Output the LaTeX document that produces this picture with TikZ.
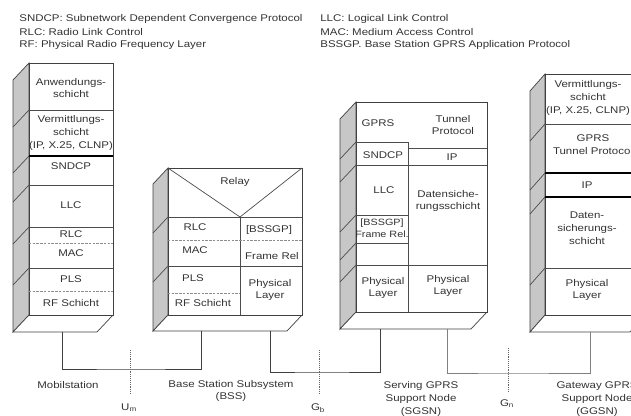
\documentclass[tikz,border=0pt]{standalone}
\usepackage{fontspec}
\setmainfont{Liberation Sans}[FakeStretch=1.18]
\usetikzlibrary{calc}

\begin{document}
\begin{tikzpicture}[x=0.03cm, y=-0.03cm, line width=0.6pt,
    txt/.style={inner sep=0pt, align=center, text=black!80, font=\fontsize{8.3}{11}\selectfont},
    hdr/.style={txt, anchor=west},
    frontface/.style={draw=black!75, fill=white},
    sideface/.style={draw=black!75, fill=black!22},
    layerline/.style={draw=black!70},
    boldline/.style={draw=black, line width=1.1pt},
    subline/.style={draw=black!45, dash pattern=on 2pt off 1.2pt},
    link/.style={draw=black!75},
    iface/.style={draw=black!60, densely dotted}]

  \useasboundingbox (0,0) rectangle (631,416);
  \clip (0,0) rectangle (631,416);

  % Abbreviations
  \node[hdr] (hdr-sndcp) at (19,19) {SNDCP: Subnetwork Dependent Convergence Protocol};
  \node[hdr] (hdr-rlc) at (19,32) {RLC: Radio Link Control};
  \node[hdr] (hdr-rf) at (19,45) {RF: Physical Radio Frequency Layer};
  \node[hdr] (hdr-llc) at (320,19) {LLC: Logical Link Control};
  \node[hdr] (hdr-mac) at (320,32) {MAC: Medium Access Control};
  \node[hdr] (hdr-bssgp) at (320,45) {BSSGP. Base Station GPRS Application Protocol};

  % Mobilstation
  \path[sideface] (29,63) -- (13,80) -- (13,332) -- (29,315) -- cycle;
  \path[frontface] (29,315) -- (113,315) -- (97,332) -- (13,332) -- cycle;
  \path[frontface] (29,63) rectangle (113,315);
  \foreach \y in {110,156,185,227,268}
    \draw[layerline] (29,\y) -- (13,{\y+17});
  \draw[layerline] (29,110) -- (113,110);
  \draw[boldline] (29,156) -- (113,156);
  \draw[layerline] (29,185) -- (113,185);
  \draw[layerline] (29,227) -- (113,227);
  \draw[subline] (29,243) -- (113,243);
  \draw[layerline] (29,268) -- (113,268);
  \draw[subline] (29,291) -- (113,291);
  \node[txt] (ms-app) at (71,88) {Anwendungs-\\schicht};
  \node[txt] (ms-net) at (71,133) {Vermittlungs-\\schicht\\(IP, X.25, CLNP)};
  \node[txt] (ms-sndcp) at (71,166) {SNDCP};
  \node[txt] (ms-llc) at (71,205) {LLC};
  \node[txt] (ms-rlc) at (71,234) {RLC};
  \node[txt] (ms-mac) at (71,253) {MAC};
  \node[txt] (ms-pls) at (71,279) {PLS};
  \node[txt] (ms-rf) at (71,303) {RF Schicht};

  % Base Station Subsystem
  \path[sideface] (168,168) -- (153,184) -- (153,331) -- (168,315) -- cycle;
  \path[frontface] (168,315) -- (302,315) -- (287,331) -- (153,331) -- cycle;
  \path[frontface] (168,168) rectangle (302,315);
  \foreach \y in {217,266}
    \draw[layerline] (168,\y) -- (153,{\y+16});
  \draw[layerline] (168,168) -- (240,217) -- (302,168);
  \draw[layerline] (168,217) -- (302,217);
  \draw[layerline] (240,217) -- (240,315);
  \draw[subline] (168,240) -- (302,240);
  \draw[layerline] (168,266) -- (302,266);
  \draw[subline] (168,293) -- (240,293);
  \node[txt] (bss-relay) at (235,182) {Relay};
  \node[txt] (bss-rlc) at (195,227) {RLC};
  \node[txt] (bss-mac) at (195,250) {MAC};
  \node[txt] (bss-pls) at (193,278) {PLS};
  \node[txt] (bss-rf) at (203,303) {RF Schicht};
  \node[txt] (bss-bssgp) at (269,230) {[BSSGP]};
  \node[txt] (bss-fr) at (272,256) {Frame Rel};
  \node[txt] (bss-phy) at (270,290) {Physical\\Layer};

  % Serving GPRS Support Node
  \path[sideface] (356,102) -- (340,119) -- (340,329) -- (356,312) -- cycle;
  \path[frontface] (356,312) -- (487,312) -- (471,329) -- (340,329) -- cycle;
  \path[frontface] (356,102) rectangle (487,312);
  \foreach \y in {142,165,215,243,265}
    \draw[layerline] (356,\y) -- (340,{\y+17});
  \draw[layerline] (356,142) -- (408,142) -- (408,312);
  \draw[layerline] (408,148) -- (487,148);
  \draw[layerline] (356,165) -- (487,165);
  \draw[layerline] (356,215) -- (408,215);
  \draw[layerline] (356,243) -- (408,243);
  \draw[layerline] (356,265) -- (487,265);
  \node[txt] (sgsn-gprs) at (378,123) {GPRS};
  \node[txt] (sgsn-gtp) at (453,125) {Tunnel\\Protocol};
  \node[txt] (sgsn-sndcp) at (383,155) {SNDCP};
  \node[txt] (sgsn-ip) at (452,157) {IP};
  \node[txt] (sgsn-llc) at (384,190) {LLC};
  \node[txt] (sgsn-dl) at (448,201) {Datensiche-\\rungsschicht};
  \node[txt, font=\fontsize{7.8}{10.5}\selectfont] (sgsn-bssgp) at (382,228) {[BSSGP]\\Frame Rel.};
  \node[txt] (sgsn-phy1) at (383,288) {Physical\\Layer};
  \node[txt] (sgsn-phy2) at (448,286) {Physical\\Layer};

  % Gateway GPRS Support Node
  \path[sideface] (545,74) -- (530,91) -- (530,332) -- (545,315) -- cycle;
  \path[frontface] (545,315) -- (645,315) -- (630,332) -- (530,332) -- cycle;
  \path[frontface] (545,74) rectangle (645,315);
  \foreach \y in {124,173,197,268}
    \draw[layerline] (545,\y) -- (530,{\y+17});
  \draw[layerline] (545,124) -- (645,124);
  \draw[boldline] (545,173) -- (645,173);
  \draw[boldline] (545,197) -- (645,197);
  \draw[layerline] (545,268) -- (645,268);
  \node[txt] (ggsn-net) at (588,98) {Vermittlungs-\\schicht\\(IP, X.25, CLNP)};
  \node[txt] (ggsn-gtp) at (593,145) {GPRS\\Tunnel Protocol};
  \node[txt] (ggsn-ip) at (587,185) {IP};
  \node[txt] (ggsn-dl) at (587,228) {Daten-\\sicherungs-\\schicht};
  \node[txt] (ggsn-phy) at (587,290) {Physical\\Layer};

  % Connections
  \coordinate (ms-out) at (62,332);
  \coordinate (bss-in) at (201,331);
  \coordinate (bss-out) at (270,331);
  \coordinate (sgsn-in) at (380,329);
  \coordinate (sgsn-out) at (447,329);
  \coordinate (ggsn-in) at (590,332);
  \coordinate (um-bus) at (130,369);
  \coordinate (gb-bus) at (319,372);
  \coordinate (gn-bus) at (508,373);
  \draw[link] (ms-out) |- (um-bus) -| (bss-in);
  \draw[link] (bss-out) |- (gb-bus) -| (sgsn-in);
  \draw[link, draw=black!50] (sgsn-out) |- (gn-bus) -| (ggsn-in);

  % Interfaces
  \coordinate (um-top) at (130,350);
  \coordinate (um-bot) at (130,394);
  \coordinate (gb-top) at (319,350);
  \coordinate (gb-bot) at (319,394);
  \coordinate (gn-top) at (508,348);
  \coordinate (gn-bot) at (508,392);
  \draw[iface] (um-top) -- (um-bot);
  \draw[iface] (gb-top) -- (gb-bot);
  \draw[iface] (gn-top) -- (gn-bot);
  \node[txt] (um) at (129,408) {U\textsubscript{m}};
  \node[txt] (gb) at (318,408) {G\textsubscript{b}};
  \node[txt] (gn) at (507,404) {G\textsubscript{n}};

  % Network elements
  \node[txt] (ms-name) at (68,385) {Mobilstation};
  \node[txt] (bss-name) at (231,391) {Base Station Subsystem\\(BSS)};
  \node[txt] (sgsn-name) at (421,399) {Serving GPRS\\Support Node\\(SGSN)};
  \node[txt] (ggsn-name) at (597,399) {Gateway GPRS\\Support Node\\(GGSN)};
\end{tikzpicture}
\end{document}
